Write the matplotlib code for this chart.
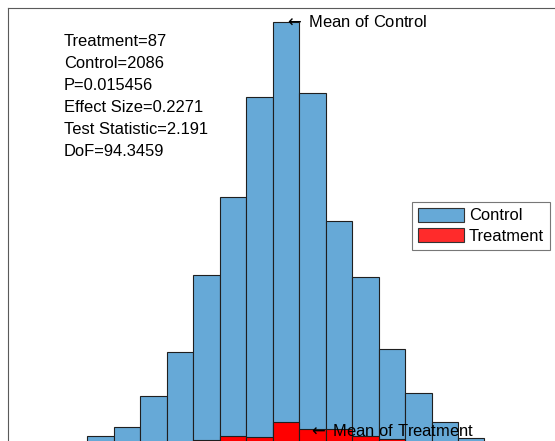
import matplotlib
matplotlib.use("Agg")
import matplotlib.pyplot as plt
import numpy as np
from matplotlib.patches import Patch

plt.rcParams['font.family'] = ['Liberation Sans', 'DejaVu Sans']

# Data
bin_edges = np.arange(-7.5, 8.0, 1.0)   # 15 bins
control_counts = [9, 17, 45, 86, 156, 227, 319, 387, 322, 205, 154, 88, 48, 22, 7]
treatment_counts = [0, 0, 0, 0, 5, 9, 8, 22, 15, 15, 9, 6, 0, 0, 0]
control_mean = -0.08
treatment_mean = 0.84
treatment_label_y = 13
stats_lines = ["Treatment=87", "Control=2086", "P=0.015456",
               "Effect Size=0.2271", "Test Statistic=2.191", "DoF=94.3459"]

W, H = 555, 441
fig = plt.figure(figsize=(W / 100, H / 100), dpi=100)
xl = (-10.5, 10.5)
yl = (0, 400)
px_per_x = 26.47
px_per_y = 1.094
ax_left_px, ax_top_px = 8, 8
ax_w_px = (xl[1] - xl[0]) * px_per_x
ax_h_px = (yl[1] - yl[0]) * px_per_y
ax = fig.add_axes([ax_left_px / W, 1 - (ax_top_px + ax_h_px) / H,
                   ax_w_px / W, ax_h_px / H])
ax.set_xlim(*xl)
ax.set_ylim(*yl)

widths = np.diff(bin_edges)
lefts = bin_edges[:-1]
blue = '#66a9d7'
red = '#ff0000'
ax.bar(lefts, control_counts, width=widths, align='edge', color=blue,
       edgecolor='#1f1f1f', linewidth=0.8, zorder=2)
tmask = np.array(treatment_counts) > 0
ax.bar(lefts[tmask], np.array(treatment_counts)[tmask], width=widths[tmask],
       align='edge', color=red, edgecolor='#1f1f1f', linewidth=0.8, zorder=3)

for s in ax.spines.values():
    s.set_color('#5a5a5a')
    s.set_linewidth(0.8)
ax.set_xticks([])
ax.set_yticks([])

fs = 11.9
ax.text(control_mean, max(control_counts), r'$\leftarrow$ Mean of Control',
        fontsize=fs, va='center', ha='left', zorder=5)
ax.text(treatment_mean, treatment_label_y, r'$\leftarrow$ Mean of Treatment',
        fontsize=fs, va='center', ha='left', zorder=5)

y0 = 42
for i, line in enumerate(stats_lines):
    fig.text(64 / W, 1 - (y0 + i * 21.8) / H, line, fontsize=fs,
             va='center', ha='left')

handles = [Patch(facecolor=blue, edgecolor='#333333', linewidth=0.8, label='Control'),
           Patch(facecolor='#ff2b2b', edgecolor='#333333', linewidth=0.8, label='Treatment')]
leg = ax.legend(handles=handles, loc='upper left',
                bbox_to_anchor=(412 / W, 1 - 202 / H),
                bbox_transform=fig.transFigure,
                fontsize=fs, frameon=True, fancybox=False,
                handlelength=2.8, handleheight=0.9, handletextpad=0.3,
                labelspacing=0.3, borderpad=0.35, borderaxespad=0)
leg.get_frame().set_edgecolor('#555555')
leg.get_frame().set_linewidth(0.8)

fig.savefig('out.png', dpi=100)
